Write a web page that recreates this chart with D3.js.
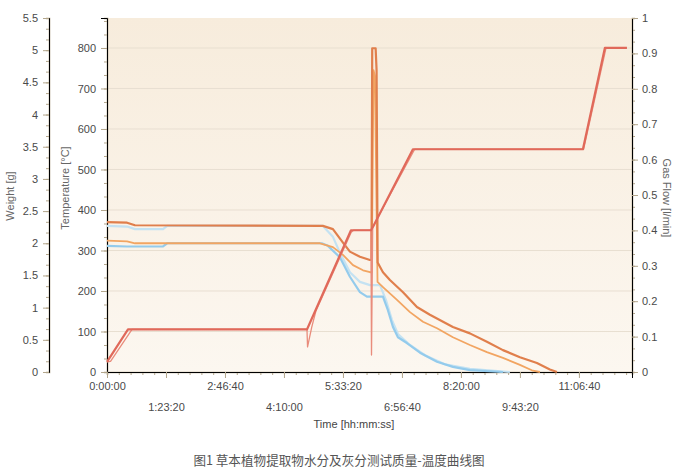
<!DOCTYPE html>
<html>
<head>
<meta charset="utf-8">
<script src="https://cdn.jsdelivr.net/npm/d3@7"></script>
<style>
body { margin: 0; background: #ffffff; }
text { font-family: "Liberation Sans", Arial, sans-serif; }
</style>
</head>
<body>
<script>
// all times are in seconds from start of the run

// furnace program temperature [°C]
var progTime = [0, 1780, 16950, 20680, 22370, 22540, 25930, 40340, 42200, 44070];
var progTemp = [25, 105, 105, 350, 350, 358, 550, 550, 800, 800];

// measured temperature [°C]
var measTime = [0, 300, 2120, 16950, 17000, 17350, 17700, 20700, 20900, 22370, 22420, 22520, 26080, 40400, 42300, 44070];
var measTemp = [25, 26, 105, 105, 62, 110, 150, 345, 350, 350, 42, 358, 550, 550, 800, 800];

// sample weights [g]
var aTime = [0, 1700, 2370, 18300, 19150, 20000, 20590, 21440, 22290, 22420, 22480, 22770, 22850, 22940, 23390, 23980, 25090, 26270, 27370, 29320, 30760, 32200, 33560, 35000, 36440, 37540, 38140];
var aWeight = [2.33, 2.32, 2.28, 2.27, 2.22, 2.01, 1.87, 1.79, 1.74, 1.74, 5.03, 5.03, 4.69, 1.70, 1.55, 1.43, 1.24, 1.01, 0.89, 0.70, 0.60, 0.47, 0.34, 0.23, 0.14, 0.04, 0];

var bTime = [0, 1700, 2370, 18050, 19150, 20000, 20850, 21700, 22290, 22440, 22590, 22710, 22930, 23390, 24580, 25680, 26780, 27970, 29320, 30760, 32200, 33560, 35000, 36100, 36700];
var bWeight = [2.04, 2.03, 2.00, 2.00, 1.94, 1.82, 1.66, 1.58, 1.55, 1.55, 4.69, 4.60, 1.40, 1.32, 1.12, 0.93, 0.78, 0.68, 0.54, 0.42, 0.31, 0.22, 0.11, 0.02, 0];

var cTime = [0, 1700, 4750, 5100, 18200, 18730, 19750, 20590, 21440, 22030, 23390, 23810, 24240, 24660, 25420, 26530, 27970, 29320, 30760, 33560];
var cWeight = [1.96, 1.95, 1.95, 2.00, 2.00, 1.96, 1.78, 1.48, 1.24, 1.17, 1.17, 0.96, 0.70, 0.54, 0.45, 0.30, 0.16, 0.08, 0.03, 0];

var dTime = [0, 1700, 2370, 4750, 5100, 18300, 19150, 19750, 20590, 21440, 22290, 23140, 23640, 24150, 24660, 25680, 26950, 28640, 30760, 34150];
var dWeight = [2.27, 2.26, 2.22, 2.22, 2.27, 2.27, 2.10, 1.85, 1.55, 1.40, 1.35, 1.35, 1.12, 0.81, 0.59, 0.42, 0.26, 0.12, 0.05, 0];

// tick labels
var timeTicks = [0, 5000, 10000, 15000, 20000, 25000, 30000, 35000, 40000];
var weightTicks = [0, 0.5, 1, 1.5, 2, 2.5, 3, 3.5, 4, 4.5, 5, 5.5];
var tempTicks = [0, 100, 200, 300, 400, 500, 600, 700, 800];
var flowTicks = [0, 0.1, 0.2, 0.3, 0.4, 0.5, 0.6, 0.7, 0.8, 0.9, 1];

var caption = "图1 草本植物提取物水分及灰分测试质量-温度曲线图";

var plotLeft = 107, plotRight = 632, plotTop = 18, plotBottom = 372;
var axisColor = "#b3a68c";

var x = d3.scaleLinear().domain([0, 44500]).range([plotLeft, plotRight]);
var yW = d3.scaleLinear().domain([0, 5.5]).range([plotBottom, plotTop]);
var yT = d3.scaleLinear().domain([0, 874]).range([plotBottom, plotTop]);
var yF = d3.scaleLinear().domain([0, 1]).range([plotBottom, plotTop]);

var svg = d3.select("body").append("svg")//
.attr("width", 684)//
.attr("height", 472);

var grad = svg.append("defs").append("linearGradient")//
.attr("id", "bg")//
.attr("x1", 0).attr("y1", 0).attr("x2", 0).attr("y2", 1);
grad.append("stop").attr("offset", "0%").attr("stop-color", "#f7ecdc");
grad.append("stop").attr("offset", "100%").attr("stop-color", "#fcf7f0");

svg.append("rect")//
.attr("x", plotLeft).attr("y", plotTop)//
.attr("width", plotRight - plotLeft).attr("height", plotBottom - plotTop)//
.attr("fill", "url(#bg)");

// grid
svg.selectAll(".grid").data(tempTicks.slice(1)).enter().append("line")//
.attr("class", "grid")//
.attr("x1", plotLeft).attr("x2", plotRight)//
.attr("y1", function(d) { return yT(d); })//
.attr("y2", function(d) { return yT(d); })//
.attr("stroke", "#e8dfd1")//
.attr("stroke-width", 1);

function pad(n) {
	return n < 10 ? "0" + n : "" + n;
}

function fmtTime(s) {
	var h = Math.floor(s / 3600);
	var m = Math.floor((s % 3600) / 60);
	return h + ":" + pad(m) + ":" + pad(s % 60);
}

function styleAxis(g) {
	g.select(".domain").attr("stroke", axisColor).attr("stroke-width", 1.6);
	g.selectAll(".tick line").attr("stroke", axisColor).attr("stroke-width", 1);
	g.selectAll("text").attr("fill", "#4a4a4a").style("font-size", "11px")//
	.style("font-family", "Liberation Sans, Arial, sans-serif");
}

function minor(step, max) {
	var out = [];
	for (var i = 0; i * step <= max + 1e-9; i++) {
		out.push(i * step);
	}
	return out;
}

// weight axis (far left)
var gW = svg.append("g").attr("transform", "translate(49,0)");
gW.append("g").call(d3.axisLeft(yW).tickValues(minor(0.5 / 3, 5.5)).tickSize(3).tickFormat(""));
gW.append("g").call(d3.axisLeft(yW).tickValues(weightTicks).tickSize(6).tickPadding(5).tickFormat(function(d) { return d; }));
styleAxis(gW);

// temperature axis
var gT = svg.append("g").attr("transform", "translate(" + plotLeft + ",0)");
gT.append("g").call(d3.axisLeft(yT).tickValues(minor(100 / 3, 874)).tickSize(3).tickFormat(""));
gT.append("g").call(d3.axisLeft(yT).tickValues(tempTicks).tickSize(6).tickPadding(5));
styleAxis(gT);

// gas flow axis
var gF = svg.append("g").attr("transform", "translate(" + plotRight + ",0)");
gF.append("g").call(d3.axisRight(yF).tickValues(minor(0.1 / 3, 1)).tickSize(3).tickFormat(""));
gF.append("g").call(d3.axisRight(yF).tickValues(flowTicks).tickSize(6).tickPadding(4).tickFormat(function(d) { return d; }));
styleAxis(gF);

// time axis
var gX = svg.append("g").attr("transform", "translate(0," + plotBottom + ")");
gX.append("g").call(d3.axisBottom(x).tickValues(minor(1000, 44500)).tickSize(3).tickFormat(""));
gX.append("g").call(d3.axisBottom(x).tickValues(timeTicks).tickSize(6).tickFormat(fmtTime));
styleAxis(gX);
gX.selectAll(".tick text").attr("y", function(d) {
	return (d / 5000) % 2 == 1 ? 31 : 10;
});

// axis titles
svg.append("text")//
.attr("transform", "translate(14,196) rotate(-90)")//
.attr("text-anchor", "middle")//
.attr("fill", "#666")//
.style("font-size", "11px")//
.text("Weight [g]");

svg.append("text")//
.attr("transform", "translate(69,188) rotate(-90)")//
.attr("text-anchor", "middle")//
.attr("fill", "#666")//
.style("font-size", "11px")//
.text("Temperature [°C]");

svg.append("text")//
.attr("transform", "translate(663,198) rotate(90)")//
.attr("text-anchor", "middle")//
.attr("fill", "#666")//
.style("font-size", "11px")//
.text("Gas Flow [l/min]");

svg.append("text")//
.attr("x", 354).attr("y", 428)//
.attr("text-anchor", "middle")//
.attr("fill", "#444")//
.style("font-size", "11px")//
.text("Time [hh:mm:ss]");

svg.append("text")//
.attr("x", 339).attr("y", 465)//
.attr("text-anchor", "middle")//
.attr("fill", "#555")//
.style("font-family", "Noto Sans CJK SC, sans-serif")//
.style("font-size", "12.6px")//
.text(caption);

// series
function drawSeries(times, values, yScale, color, width) {
	var pts = d3.zip(times, values);
	var line = d3.line()//
	.x(function(d) { return x(d[0]); })//
	.y(function(d) { return yScale(d[1]); });
	svg.append("path")//
	.datum(pts)//
	.attr("d", line)//
	.attr("fill", "none")//
	.attr("stroke", color)//
	.attr("stroke-width", width)//
	.attr("stroke-linejoin", "round");
}

drawSeries(dTime, dWeight, yW, "#c4e2f2", 2.2);
drawSeries(cTime, cWeight, yW, "#94cbec", 2.2);
drawSeries(bTime, bWeight, yW, "#f2a562", 1.8);
drawSeries(aTime, aWeight, yW, "#e07f4c", 2.2);
drawSeries(measTime, measTemp, yT, "#e98c7c", 1.3);
drawSeries(progTime, progTemp, yT, "#e0695a", 2.2);
</script>
</body>
</html>
